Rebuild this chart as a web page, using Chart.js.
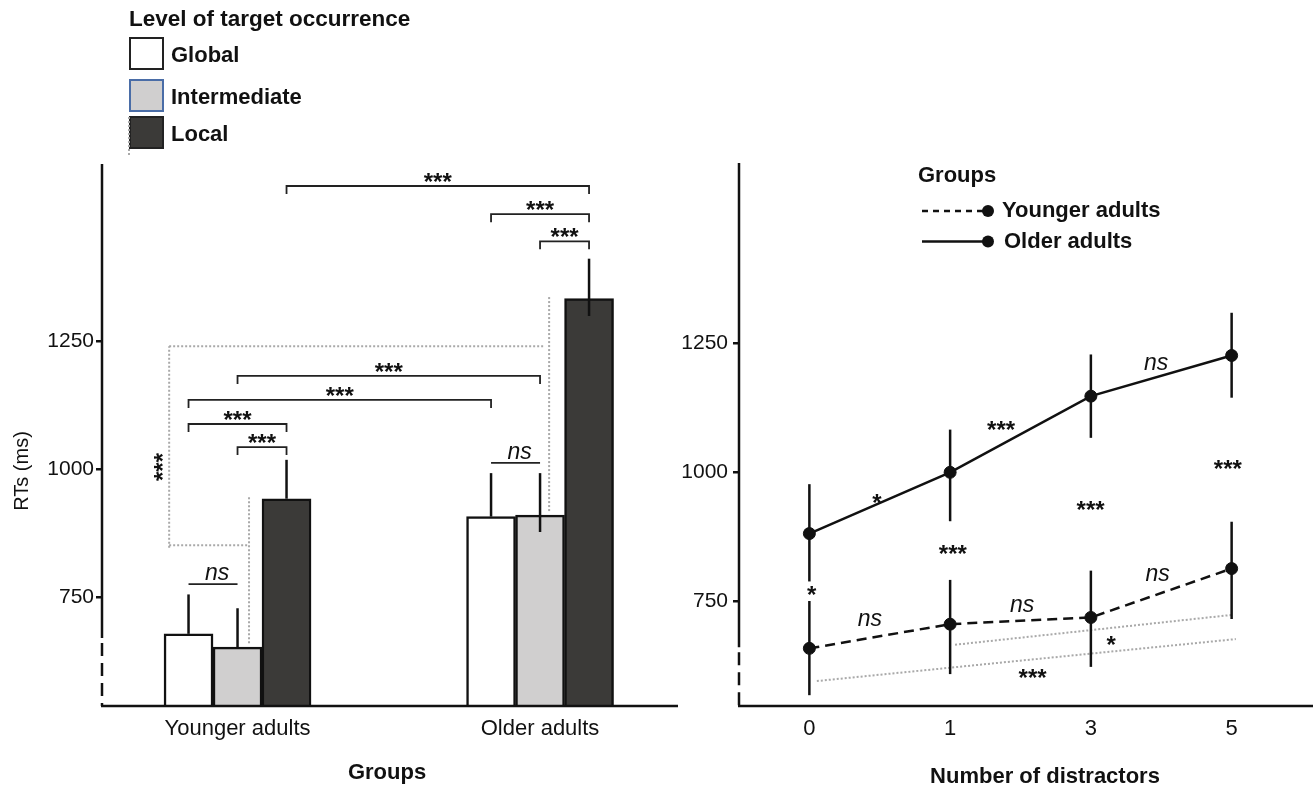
<!DOCTYPE html>
<html>
<head>
<meta charset="utf-8">
<script src="https://cdn.jsdelivr.net/npm/chart.js@4.4.1/dist/chart.umd.min.js"></script>
<style>
html, body { margin: 0; padding: 0; background: #ffffff; }
#wrap { position: relative; width: 1313px; height: 790px; overflow: hidden; background: #fff; }
#c1 { position: absolute; left: 0; top: 0; }
#c2 { position: absolute; left: 660px; top: 0; }
</style>
</head>
<body>
<div id="wrap">
  <canvas id="c1" width="690" height="790"></canvas>
  <canvas id="c2" width="653" height="790"></canvas>
</div>
<script>
// ---------------- DATA (left panel) ----------------
const groups = ['Younger adults', 'Older adults'];
const levels = ['Global', 'Intermediate', 'Local'];
const globalRT = [679, 908];
const intermediateRT = [653, 911];
const localRT = [943, 1334];
const globalErrHigh = [756, 993];
const intermediateErrHigh = [729, 993];
const localErrHigh = [1019, 1412];
const globalErrLow = [679, 908];
const intermediateErrLow = [653, 878];
const localErrLow = [943, 1300];
const leftTicks = [750, 1000, 1250];

// ---------------- DATA (right panel) ----------------
const distractors = ['0', '1', '3', '5'];
const seriesNames = ['Younger adults', 'Older adults'];
const youngerRT = [658, 705, 718, 813];
const youngerLow = [567, 608, 622, 715];
const youngerHigh = [750, 791, 809, 904];
const olderRT = [881, 1000, 1148, 1227];
const olderLow = [788, 905, 1067, 1145];
const olderHigh = [977, 1083, 1229, 1310];
const rightTicks = [750, 1000, 1250];

// ---------------- significance annotations ----------------
// a/b = [group index, level index]
const leftBrackets = [
  { a: [0, 2], b: [1, 2], y: 1554, text: '***', drop: 8 },
  { a: [1, 0], b: [1, 2], y: 1499, text: '***', drop: 8 },
  { a: [1, 1], b: [1, 2], y: 1446, text: '***', drop: 8 },
  { a: [0, 1], b: [1, 1], y: 1183, text: '***', drop: 8 },
  { a: [0, 0], b: [1, 0], y: 1136, text: '***', drop: 8 },
  { a: [0, 0], b: [0, 2], y: 1089, text: '***', drop: 8 },
  { a: [0, 1], b: [0, 2], y: 1044, text: '***', drop: 8 },
  { a: [0, 0], b: [0, 1], y: 776, text: 'ns', drop: 0 },
  { a: [1, 0], b: [1, 1], y: 1013, text: 'ns', drop: 0 }
];
const leftDotted = [
  [[0.038, 946], [0.038, 657]],
  [[-0.226, 852], [0.038, 852]],
  [[-0.226, 847], [-0.226, 1241]],
  [[-0.226, 1241], [1.016, 1241]],
  [[1.03, 1337], [1.03, 915]]
];
const leftSideNote = { x: -0.266, y: 1005, text: '***' };
const leftAxisBreak = 671;

const rightNotes = [
  { x: 0.48, y: 952, text: '*' },
  { x: 1.362, y: 1093, text: '***' },
  { x: 2.463, y: 1210, text: 'ns' },
  { x: 2.973, y: 1017, text: '***' },
  { x: 1.998, y: 937, text: '***' },
  { x: 1.019, y: 852, text: '***' },
  { x: 0.016, y: 773, text: '*' },
  { x: 0.43, y: 713, text: 'ns' },
  { x: 1.511, y: 740, text: 'ns' },
  { x: 2.474, y: 800, text: 'ns' },
  { x: 2.144, y: 675, text: '*' },
  { x: 1.586, y: 611, text: '***' }
];
const rightDotted = [
  [[1.035, 665], [3.003, 723]],
  [[0.053, 594.5], [3.03, 676]]
];
const rightAxisBreak = 660;

// ---------------- styling ----------------
const FONT = "'Liberation Sans', Arial, Helvetica, sans-serif";
const INK = '#111111';
const fills = ['#ffffff', '#d0cfcf', '#3b3a38'];
Chart.defaults.font.family = FONT;
Chart.defaults.color = INK;

function drawNote(ctx, text, x, yc) {
  ctx.save();
  ctx.fillStyle = INK;
  ctx.textAlign = 'center';
  ctx.textBaseline = 'alphabetic';
  if (text === 'ns') {
    ctx.font = 'italic 23px ' + FONT;
    ctx.fillText(text, x, yc + 0.26 * 23);
  } else {
    ctx.font = 'bold 24px ' + FONT;
    ctx.fillText(text, x, yc + 0.57 * 24);
  }
  ctx.restore();
}
function drawDotted(ctx, segs, X, Y) {
  ctx.save();
  ctx.strokeStyle = '#a9a9a9';
  ctx.lineWidth = 2;
  ctx.setLineDash([2, 2]);
  segs.forEach(s => {
    ctx.beginPath();
    ctx.moveTo(X(s[0][0]), Y(s[0][1]));
    ctx.lineTo(X(s[1][0]), Y(s[1][1]));
    ctx.stroke();
  });
  ctx.restore();
}
function drawAxes(ctx, area, breakPx, xEnd) {
  ctx.save();
  ctx.strokeStyle = INK;
  ctx.lineWidth = 2.5;
  ctx.beginPath();
  ctx.moveTo(area.left, area.top);
  ctx.lineTo(area.left, breakPx);
  ctx.stroke();
  ctx.setLineDash([13, 7]);
  ctx.beginPath();
  ctx.moveTo(area.left, breakPx + 5);
  ctx.lineTo(area.left, area.bottom);
  ctx.stroke();
  ctx.setLineDash([]);
  ctx.beginPath();
  ctx.moveTo(area.left - 1, area.bottom);
  ctx.lineTo(xEnd, area.bottom);
  ctx.stroke();
  ctx.restore();
}

// ---------------- left panel decorations ----------------
const leftDecor = {
  id: 'leftDecor',
  afterDatasetsDraw(chart) {
    const ctx = chart.ctx;
    const xs = chart.scales.x, ys = chart.scales.y;
    const X = v => xs.getPixelForValue(v), Y = v => ys.getPixelForValue(v);
    const highs = [globalErrHigh, intermediateErrHigh, localErrHigh];
    const lows = [globalErrLow, intermediateErrLow, localErrLow];
    const cx = (g, d) => chart.getDatasetMeta(d).data[g].x;

    drawDotted(ctx, leftDotted, X, Y);

    ctx.save();
    ctx.strokeStyle = INK;
    ctx.lineWidth = 2.5;
    for (let d = 0; d < 3; d++) {
      for (let g = 0; g < groups.length; g++) {
        ctx.beginPath();
        ctx.moveTo(cx(g, d), Y(lows[d][g]));
        ctx.lineTo(cx(g, d), Y(highs[d][g]));
        ctx.stroke();
      }
    }
    ctx.restore();

    ctx.save();
    ctx.strokeStyle = '#222';
    ctx.lineWidth = 1.8;
    leftBrackets.forEach(b => {
      const x1 = cx(b.a[0], b.a[1]), x2 = cx(b.b[0], b.b[1]), yy = Y(b.y);
      ctx.beginPath();
      ctx.moveTo(x1, yy + b.drop);
      ctx.lineTo(x1, yy);
      ctx.lineTo(x2, yy);
      ctx.lineTo(x2, yy + b.drop);
      ctx.stroke();
      drawNote(ctx, b.text, (x1 + x2) / 2 + (b.text === 'ns' ? 4 : 0), yy - 10);
    });
    ctx.restore();

    ctx.save();
    ctx.translate(X(leftSideNote.x), Y(leftSideNote.y));
    ctx.rotate(-Math.PI / 2);
    drawNote(ctx, leftSideNote.text, 0, 0);
    ctx.restore();
  },
  afterDraw(chart) {
    const ctx = chart.ctx;
    drawAxes(ctx, chart.chartArea, chart.scales.y.getPixelForValue(leftAxisBreak), chart.chartArea.right);

    ctx.save();
    ctx.fillStyle = INK;
    ctx.textAlign = 'center';
    ctx.textBaseline = 'middle';
    ctx.font = 'bold 22px ' + FONT;
    ctx.fillText('Groups', 387, 773);
    ctx.translate(22, 471);
    ctx.rotate(-Math.PI / 2);
    ctx.font = '20px ' + FONT;
    ctx.fillText('RTs (ms)', 0, 0);
    ctx.restore();

    ctx.save();
    ctx.fillStyle = INK;
    ctx.textAlign = 'left';
    ctx.textBaseline = 'middle';
    ctx.font = 'bold 22.5px ' + FONT;
    ctx.fillText('Level of target occurrence', 129, 20);
    ctx.font = 'bold 22px ' + FONT;
    const boxY = [38, 80, 117];
    const strokes = ['#222', '#4a6da7', '#222'];
    levels.forEach((lv, i) => {
      ctx.fillStyle = fills[i];
      ctx.fillRect(130, boxY[i], 33, 31);
      ctx.strokeStyle = strokes[i];
      ctx.lineWidth = 2;
      ctx.strokeRect(130, boxY[i], 33, 31);
      ctx.fillStyle = INK;
      ctx.fillText(lv, 171, boxY[i] + 18);
    });
    ctx.strokeStyle = '#a9a9a9';
    ctx.lineWidth = 2;
    ctx.setLineDash([2, 2]);
    ctx.beginPath();
    ctx.moveTo(129, 117);
    ctx.lineTo(129, 156);
    ctx.stroke();
    ctx.restore();
  }
};

new Chart(document.getElementById('c1'), {
  type: 'bar',
  data: {
    datasets: levels.map((lv, d) => ({
      label: lv,
      data: groups.map((g, i) => ({ x: i, y: [globalRT, intermediateRT, localRT][d][i] })),
      backgroundColor: fills[d],
      borderColor: INK,
      borderWidth: 2.5,
      borderSkipped: false,
      barThickness: 49
    }))
  },
  options: {
    responsive: false,
    animation: false,
    layout: { padding: { top: 164, right: 12, left: 0, bottom: 0 } },
    plugins: { legend: { display: false }, tooltip: { enabled: false } },
    scales: {
      x: {
        type: 'linear', min: -0.448, max: 1.456, offset: false,
        afterBuildTicks: s => { s.ticks = groups.map((g, i) => ({ value: i })); },
        afterFit: s => { s.height = 84; },
        grid: { display: false, drawTicks: false },
        border: { display: false },
        ticks: { callback: v => groups[v], font: { size: 22 }, color: INK, padding: 10, maxRotation: 0, autoSkip: false }
      },
      y: {
        min: 538, max: 1597,
        afterBuildTicks: s => { s.ticks = leftTicks.map(v => ({ value: v })); },
        afterFit: s => { s.width = 102; },
        grid: { drawOnChartArea: false, drawTicks: true, tickLength: 6, color: INK, lineWidth: 2.5 },
        border: { display: false },
        ticks: { callback: v => String(v), font: { size: 21 }, color: INK, padding: 2 }
      }
    }
  },
  plugins: [leftDecor]
});

// ---------------- right panel decorations ----------------
const rightDecor = {
  id: 'rightDecor',
  beforeDatasetsDraw(chart) {
    const ctx = chart.ctx;
    const xs = chart.scales.x, ys = chart.scales.y;
    const X = v => xs.getPixelForValue(v), Y = v => ys.getPixelForValue(v);
    drawDotted(ctx, rightDotted, X, Y);
    ctx.save();
    ctx.strokeStyle = INK;
    ctx.lineWidth = 2.5;
    [[youngerLow, youngerHigh], [olderLow, olderHigh]].forEach(([lo, hi]) => {
      distractors.forEach((d, i) => {
        ctx.beginPath();
        ctx.moveTo(X(i), Y(lo[i]));
        ctx.lineTo(X(i), Y(hi[i]));
        ctx.stroke();
      });
    });
    ctx.restore();
  },
  afterDatasetsDraw(chart) {
    const ctx = chart.ctx;
    const xs = chart.scales.x, ys = chart.scales.y;
    rightNotes.forEach(n => drawNote(ctx, n.text, xs.getPixelForValue(n.x), ys.getPixelForValue(n.y)));
  },
  afterDraw(chart) {
    const ctx = chart.ctx;
    drawAxes(ctx, chart.chartArea, chart.scales.y.getPixelForValue(rightAxisBreak), chart.width);
    ctx.save();
    ctx.fillStyle = INK;
    ctx.textAlign = 'center';
    ctx.textBaseline = 'middle';
    ctx.font = 'bold 22px ' + FONT;
    ctx.fillText('Number of distractors', 385, 777);
    ctx.textAlign = 'left';
    ctx.fillText('Groups', 258, 176);
    const rows = [211, 241.5];
    const textX = [342, 344];
    seriesNames.forEach((nm, i) => {
      ctx.strokeStyle = INK;
      ctx.lineWidth = 2.5;
      ctx.setLineDash(i === 0 ? [6, 5] : []);
      ctx.beginPath();
      ctx.moveTo(262, rows[i]);
      ctx.lineTo(328, rows[i]);
      ctx.stroke();
      ctx.setLineDash([]);
      ctx.beginPath();
      ctx.arc(328, rows[i], 6, 0, Math.PI * 2);
      ctx.fill();
      ctx.fillText(nm, textX[i], rows[i]);
    });
    ctx.restore();
  }
};

new Chart(document.getElementById('c2'), {
  type: 'line',
  data: {
    labels: distractors,
    datasets: [
      { label: seriesNames[0], data: youngerRT, borderColor: INK, borderWidth: 2.5, borderDash: [10, 6],
        pointRadius: 6, pointBackgroundColor: INK, pointBorderColor: INK, pointBorderWidth: 1, tension: 0, fill: false },
      { label: seriesNames[1], data: olderRT, borderColor: INK, borderWidth: 2.5,
        pointRadius: 6, pointBackgroundColor: INK, pointBorderColor: INK, pointBorderWidth: 1, tension: 0, fill: false }
    ]
  },
  options: {
    responsive: false,
    animation: false,
    layout: { padding: { top: 163, right: 11, left: 0, bottom: 0 } },
    plugins: { legend: { display: false }, tooltip: { enabled: false } },
    scales: {
      x: {
        type: 'category', offset: true,
        afterFit: s => { s.height = 84; },
        grid: { display: false, drawTicks: false },
        border: { display: false },
        ticks: { font: { size: 22 }, color: INK, padding: 10, maxRotation: 0 }
      },
      y: {
        min: 546, max: 1601,
        afterBuildTicks: s => { s.ticks = rightTicks.map(v => ({ value: v })); },
        afterFit: s => { s.width = 79; },
        grid: { drawOnChartArea: false, drawTicks: true, tickLength: 6, color: INK, lineWidth: 2.5 },
        border: { display: false },
        ticks: { callback: v => String(v), font: { size: 21 }, color: INK, padding: 5 }
      }
    }
  },
  plugins: [rightDecor]
});
</script>
</body>
</html>
